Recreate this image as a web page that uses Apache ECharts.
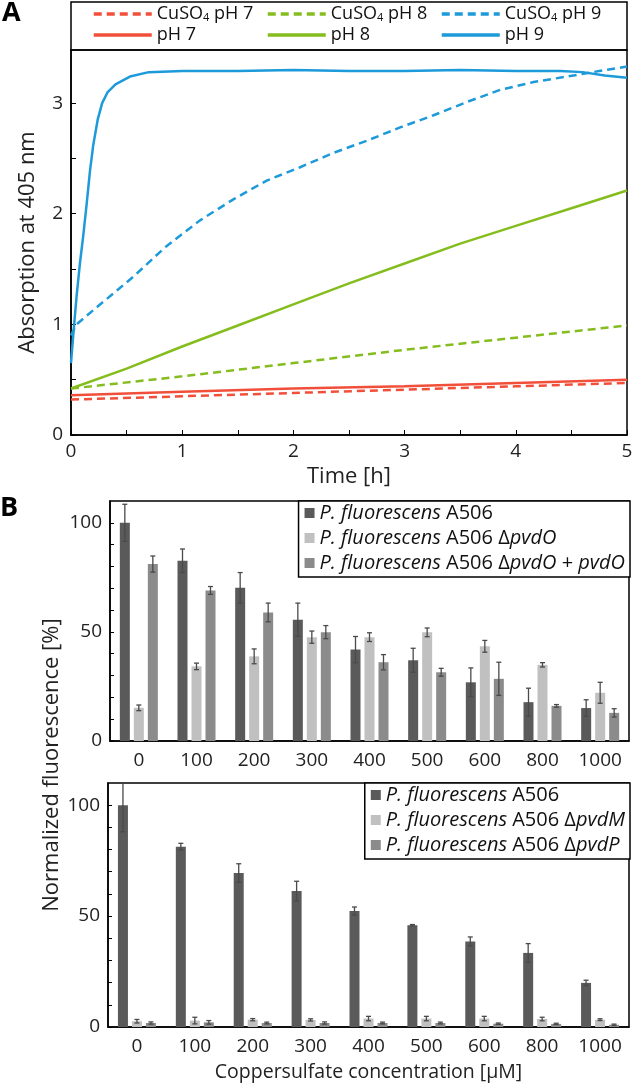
<!DOCTYPE html>
<html>
<head>
<meta charset="utf-8">
<script src="https://cdn.jsdelivr.net/npm/echarts@6/dist/echarts.min.js"></script>
<style>
  html, body { margin: 0; padding: 0; background: #fff; }
  #chart { width: 633px; height: 1083px; }
</style>
</head>
<body>
<div id="chart"></div>
<script>
// Panel A: absorption at 405 nm, [time h, value] pairs
var cuPh7 = [[0, 0.32], [1, 0.35], [2, 0.38], [3, 0.41], [4, 0.44], [5, 0.47]];
var cuPh8 = [[0, 0.42], [1, 0.53], [2, 0.65], [3, 0.77], [4, 0.88], [5, 0.99]];
var cuPh9 = [[0, 0.9], [0.05, 1.0], [0.25, 1.17], [0.56, 1.43], [0.85, 1.7], [1.16, 1.94], [1.46, 2.13],
  [1.76, 2.3], [2.06, 2.42], [2.36, 2.55], [2.66, 2.66], [2.96, 2.78], [3.26, 2.89], [3.56, 3.01],
  [3.86, 3.12], [4.16, 3.19], [4.46, 3.24], [4.75, 3.29], [5, 3.33]];
var ph7 = [[0, 0.36], [1, 0.39], [2, 0.42], [3, 0.44], [4, 0.47], [5, 0.5]];
var ph8 = [[0, 0.42], [0.5, 0.6], [1, 0.8], [1.5, 0.99], [2, 1.18], [2.5, 1.37], [3, 1.55],
  [3.5, 1.73], [4, 1.89], [4.5, 2.05], [5, 2.21]];
var ph9 = [[0, 0.65], [0.02, 0.9], [0.05, 1.25], [0.08, 1.55], [0.11, 1.8], [0.14, 2.08], [0.17, 2.38],
  [0.2, 2.62], [0.24, 2.85], [0.28, 3.0], [0.33, 3.1], [0.4, 3.17], [0.53, 3.24], [0.7, 3.28],
  [1, 3.29], [1.5, 3.29], [2, 3.3], [2.5, 3.29], [3, 3.29], [3.5, 3.3], [4, 3.29], [4.4, 3.29],
  [4.6, 3.28], [4.8, 3.25], [5, 3.23]];

// Panel B: normalized fluorescence [%]
var concentrations = ['0', '100', '200', '300', '400', '500', '600', '800', '1000'];

var b1Wt = [100, 82.6, 70.2, 55.6, 41.9, 37.0, 26.9, 17.8, 15.1];
var b1WtErr = [8.5, 5.4, 7.0, 7.6, 6.0, 5.5, 6.6, 6.4, 3.8];
var b1PvdO = [15.2, 34.2, 38.8, 47.6, 47.6, 49.8, 43.4, 34.9, 22.1];
var b1PvdOErr = [1.3, 1.5, 3.4, 2.8, 2.0, 2.0, 2.7, 1.0, 4.8];
var b1Comp = [81.1, 69.0, 58.9, 49.9, 36.1, 31.5, 28.5, 16.1, 12.9];
var b1CompErr = [3.7, 1.8, 4.3, 3.0, 3.5, 1.8, 7.6, 0.6, 1.9];

var b2Wt = [100, 81.3, 69.4, 61.3, 52.3, 45.9, 38.6, 33.4, 19.9];
var b2WtErr = [12, 1.5, 4.2, 4.4, 1.8, 0.3, 2.0, 4.2, 1.2];
var b2PvdM = [2.6, 2.9, 3.3, 3.2, 3.8, 3.8, 3.8, 3.6, 3.3];
var b2PvdMErr = [0.8, 1.5, 0.5, 0.5, 1.0, 1.0, 1.0, 0.8, 0.4];
var b2PvdP = [1.8, 2.1, 1.8, 1.8, 1.8, 1.8, 1.5, 1.4, 1.0];
var b2PvdPErr = [0.5, 0.8, 0.4, 0.5, 0.4, 0.4, 0.3, 0.3, 0.3];

var FONT = '"Open Sans", "Noto Sans", sans-serif';
var RED = '#f24f3a', GREEN = '#85bd1f', BLUE = '#1d9ad9';
var DARK = '#5a5a5a', LIGHT = '#c0c0c0', MID = '#8b8b8b';
var BAR_W = 10, BAR_STEP = 14;

var chart = echarts.init(document.getElementById('chart'), null, { renderer: 'canvas' });

function lineSeries(name, data, color, dashed) {
  return {
    name: name, type: 'line', xAxisIndex: 0, yAxisIndex: 0,
    data: data, showSymbol: false, symbol: 'none', smooth: false,
    lineStyle: { color: color, width: 2.5, type: dashed ? [8, 5] : 'solid' },
    itemStyle: { color: color },
    emphasis: { disabled: true }
  };
}

function barSeries(name, values, color, gridIdx) {
  return {
    name: name, type: 'bar', xAxisIndex: gridIdx, yAxisIndex: gridIdx,
    data: values, barWidth: BAR_W, barGap: '40%',
    itemStyle: { color: color }
  };
}

// error bars drawn as a custom series next to each bar
function errorSeries(values, errs, slot, gridIdx) {
  var data = values.map(function (v, i) { return [i, v - errs[i], v + errs[i]]; });
  return {
    type: 'custom', xAxisIndex: gridIdx, yAxisIndex: gridIdx, clip: true, z: 5,
    data: data,
    renderItem: function (params, api) {
      var lo = api.coord([api.value(0), api.value(1)]);
      var hi = api.coord([api.value(0), api.value(2)]);
      var x = lo[0] + (slot - 1) * BAR_STEP;
      var st = { stroke: '#4a4a4a', lineWidth: 1.3 };
      return {
        type: 'group',
        children: [
          { type: 'line', shape: { x1: x, y1: lo[1], x2: x, y2: hi[1] }, style: st },
          { type: 'line', shape: { x1: x - 2.5, y1: hi[1], x2: x + 2.5, y2: hi[1] }, style: st },
          { type: 'line', shape: { x1: x - 2.5, y1: lo[1], x2: x + 2.5, y2: lo[1] }, style: st }
        ]
      };
    }
  };
}

function cuName(name) { return name.replace('CuSO4', 'CuSO{s|4}'); }
function italicName(name) {
  return name.replace('P. fluorescens', '{i|P. fluorescens}').replace(/(pvd[A-Z])/g, '{i|$1}');
}

var legendText = {
  fontFamily: FONT, fontSize: 18, color: '#111',
  rich: { s: { fontFamily: FONT, fontSize: 11, color: '#111', verticalAlign: 'bottom', lineHeight: 11 } }
};
var legendTextB = {
  fontFamily: FONT, fontSize: 20, color: '#111',
  rich: { i: { fontFamily: FONT, fontSize: 20, fontStyle: 'italic', color: '#111' } }
};

function legendA(left, names) {
  return {
    orient: 'vertical', left: left, top: 5, padding: 0, itemGap: 3,
    itemWidth: 58, itemHeight: 14, data: names, formatter: cuName,
    textStyle: legendText, selectedMode: false,
    itemStyle: { opacity: 0 }, lineStyle: { width: 3.5, inactiveWidth: 3.5 }
  };
}

function legendB(top, names) {
  return {
    orient: 'vertical', right: 3, top: top, padding: [2, 5, 4, 6], itemGap: 5,
    itemWidth: 10, itemHeight: 10, icon: 'rect', data: names, formatter: italicName,
    textStyle: legendTextB, borderColor: '#000', borderWidth: 1.5, backgroundColor: '#fff',
    selectedMode: false
  };
}

var axisLine = { show: true, onZero: false, lineStyle: { color: '#000', width: 1.5 } };
var axisLabel = { fontFamily: FONT, fontSize: 19, color: '#222' };
var nameStyle = { fontFamily: FONT, fontSize: 22, color: '#222' };

function barYAxis(gridIdx) {
  return {
    type: 'value', gridIndex: gridIdx, min: 0, max: 110, interval: 10,
    axisLine: axisLine, splitLine: { show: false },
    axisTick: { show: true, inside: true, length: 4, lineStyle: { color: '#000' } },
    axisLabel: Object.assign({}, axisLabel, {
      margin: 8, showMaxLabel: false,
      formatter: function (v) { return v % 50 === 0 ? v : ''; }
    })
  };
}

function barXAxis(gridIdx, name) {
  return {
    type: 'category', gridIndex: gridIdx, data: concentrations,
    axisLine: axisLine, axisTick: { show: false },
    axisLabel: Object.assign({}, axisLabel, { margin: 10 }),
    name: name, nameLocation: 'middle', nameGap: 35,
    nameTextStyle: { fontFamily: FONT, fontSize: 19.5, color: '#222' }
  };
}

var option = {
  backgroundColor: '#fff',
  animation: false,
  grid: [
    { left: 71, right: 6, top: 50, bottom: 648, show: true, borderColor: '#000', borderWidth: 1.5, outerBoundsMode: 'none' },
    { left: 110, right: 4, top: 501, bottom: 342, show: true, borderColor: '#000', borderWidth: 1.5, outerBoundsMode: 'none' },
    { left: 108, right: 4, top: 783, bottom: 56, show: true, borderColor: '#000', borderWidth: 1.5, outerBoundsMode: 'none' }
  ],
  legend: [
    legendA(92, ['CuSO4 pH 7', 'pH 7']),
    legendA(266, ['CuSO4 pH 8', 'pH 8']),
    legendA(440, ['CuSO4 pH 9', 'pH 9']),
    legendB(501, ['P. fluorescens A506', 'P. fluorescens A506 ΔpvdO', 'P. fluorescens A506 ΔpvdO + pvdO']),
    legendB(783, ['P. fluorescens A506', 'P. fluorescens A506 ΔpvdM', 'P. fluorescens A506 ΔpvdP'])
  ],
  xAxis: [
    {
      type: 'value', gridIndex: 0, min: 0, max: 5, interval: 0.5,
      axisLine: axisLine, splitLine: { show: false },
      axisTick: { show: true, inside: true, length: 5, lineStyle: { color: '#000' } },
      axisLabel: Object.assign({}, axisLabel, {
        margin: 7, formatter: function (v) { return v % 1 === 0 ? v : ''; }
      }),
      name: 'Time [h]', nameLocation: 'middle', nameGap: 31, nameTextStyle: nameStyle
    },
    barXAxis(1, ''),
    barXAxis(2, 'Coppersulfate concentration [µM]')
  ],
  yAxis: [
    {
      type: 'value', gridIndex: 0, min: 0, max: 3.48, interval: 0.5,
      axisLine: axisLine, splitLine: { show: false },
      axisTick: { show: true, inside: true, length: 5, lineStyle: { color: '#000' } },
      axisLabel: Object.assign({}, axisLabel, {
        margin: 8, showMaxLabel: false,
        formatter: function (v) { return v % 1 === 0 ? v : ''; }
      }),
      name: 'Absorption at 405 nm', nameLocation: 'middle', nameGap: 32, nameTextStyle: nameStyle
    },
    barYAxis(1),
    barYAxis(2)
  ],
  graphic: [
    { type: 'rect', shape: { x: 71, y: 2, width: 556, height: 48 }, style: { fill: 'none', stroke: '#000', lineWidth: 1.5 } },
    { type: 'text', x: 2, y: 0, style: { text: 'A', font: 'bold 27px ' + FONT, fill: '#000' } },
    { type: 'text', x: 0, y: 495, style: { text: 'B', font: 'bold 27px ' + FONT, fill: '#000' } },
    {
      type: 'text', x: 52, y: 765, rotation: Math.PI / 2,
      style: { text: 'Normalized fluorescence [%]', font: '22px ' + FONT, fill: '#222',
        align: 'center', verticalAlign: 'middle', textAlign: 'center', textVerticalAlign: 'middle' }
    }
  ],
  series: [
    lineSeries('CuSO4 pH 7', cuPh7, RED, true),
    lineSeries('CuSO4 pH 8', cuPh8, GREEN, true),
    lineSeries('CuSO4 pH 9', cuPh9, BLUE, true),
    lineSeries('pH 7', ph7, RED, false),
    lineSeries('pH 8', ph8, GREEN, false),
    lineSeries('pH 9', ph9, BLUE, false),

    barSeries('P. fluorescens A506', b1Wt, DARK, 1),
    barSeries('P. fluorescens A506 ΔpvdO', b1PvdO, LIGHT, 1),
    barSeries('P. fluorescens A506 ΔpvdO + pvdO', b1Comp, MID, 1),
    errorSeries(b1Wt, b1WtErr, 0, 1),
    errorSeries(b1PvdO, b1PvdOErr, 1, 1),
    errorSeries(b1Comp, b1CompErr, 2, 1),

    barSeries('P. fluorescens A506', b2Wt, DARK, 2),
    barSeries('P. fluorescens A506 ΔpvdM', b2PvdM, LIGHT, 2),
    barSeries('P. fluorescens A506 ΔpvdP', b2PvdP, MID, 2),
    errorSeries(b2Wt, b2WtErr, 0, 2),
    errorSeries(b2PvdM, b2PvdMErr, 1, 2),
    errorSeries(b2PvdP, b2PvdPErr, 2, 2)
  ]
};

chart.setOption(option);
</script>
</body>
</html>
